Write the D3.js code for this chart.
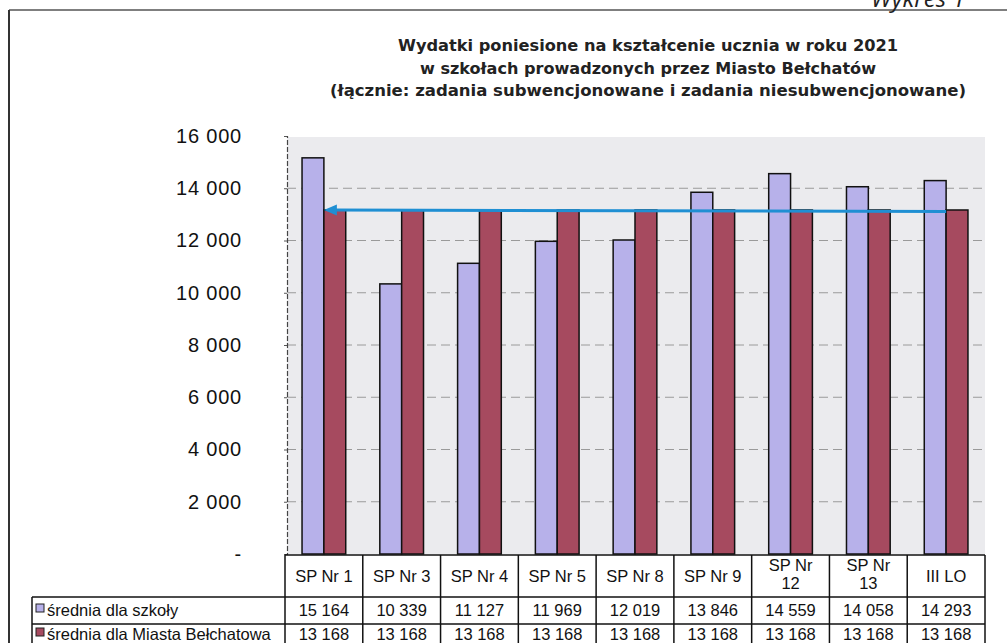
<!DOCTYPE html>
<html lang="pl">
<head>
<meta charset="utf-8">
<script src="https://cdn.jsdelivr.net/npm/d3@7"></script>
<style>
  html, body { margin: 0; padding: 0; background: #fff; }
  svg { display: block; }
</style>
</head>
<body>
<svg id="chart" width="1007" height="643"></svg>
<script>
// Expenditure per pupil in 2021, schools run by the city of Bełchatów
const schools = ["SP Nr 1", "SP Nr 3", "SP Nr 4", "SP Nr 5", "SP Nr 8", "SP Nr 9", "SP Nr 12", "SP Nr 13", "III LO"];
const schoolAvg = [15164, 10339, 11127, 11969, 12019, 13846, 14559, 14058, 14293];
const cityAvg = [13168, 13168, 13168, 13168, 13168, 13168, 13168, 13168, 13168];
const seriesNames = ["średnia dla szkoły", "średnia dla Miasta Bełchatowa"];
const yTicks = [0, 2000, 4000, 6000, 8000, 10000, 12000, 14000, 16000];
const titleLines = [
  "Wydatki poniesione na kształcenie ucznia w roku 2021",
  "w szkołach prowadzonych przez Miasto Bełchatów",
  "(łącznie: zadania subwencjonowane i zadania niesubwencjonowane)"
];

const colors = ["#b7b1ea", "#a64a5f"];
const svg = d3.select("#chart");

// outer frame of the figure
svg.append("line").attr("x1", 9).attr("y1", 10).attr("x2", 1007).attr("y2", 10)
  .attr("stroke", "#555").attr("stroke-width", 1.5);
svg.append("line").attr("x1", 9).attr("y1", 10).attr("x2", 9).attr("y2", 643)
  .attr("stroke", "#333").attr("stroke-width", 2);
svg.append("text").attr("x", 871).attr("y", 7)
  .attr("font-family", "'Open Sans', sans-serif").attr("font-style", "italic")
  .attr("font-size", 24).attr("fill", "#222").text("Wykres 1");

// title
const titleW = [500, 456, 636];
svg.append("g").selectAll("text").data(titleLines).join("text")
  .attr("x", 648).attr("y", (d, i) => 51 + i * 22.5)
  .attr("text-anchor", "middle")
  .attr("font-family", "'DejaVu Sans Condensed', 'DejaVu Sans', sans-serif")
  .attr("font-weight", "bold").attr("font-size", 16.5).attr("fill", "#222")
  .attr("textLength", (d, i) => titleW[i]).attr("lengthAdjust", "spacingAndGlyphs")
  .text(d => d);

// plot area
const plot = { left: 287, right: 985, top: 136, bottom: 554 };
const y = d3.scaleLinear().domain([0, 16000]).range([plot.bottom, plot.top]);
const xCol = d3.scaleBand().domain(schools).range([285, 985]).padding(0);
const xSub = d3.scaleBand().domain([0, 1]).range([0, xCol.bandwidth()])
  .paddingInner(0).paddingOuter(0.78);

svg.append("rect").attr("x", plot.left).attr("y", plot.top + 1)
  .attr("width", plot.right - plot.left).attr("height", plot.bottom - plot.top - 1)
  .attr("fill", "#ebebee");

// gridlines
svg.append("g").selectAll("line").data(yTicks.filter(t => t > 0 && t < 16000)).join("line")
  .attr("x1", plot.left).attr("x2", plot.right)
  .attr("y1", d => y(d)).attr("y2", d => y(d))
  .attr("stroke", "#9a9a9a").attr("stroke-width", 1).attr("stroke-dasharray", "9 5");

// y axis
const fmt = v => v === 0 ? "-" : d3.format(",")(v).replace(/,/g, " ");
const yAxis = d3.axisLeft(y).tickValues(yTicks).tickSize(3).tickFormat(fmt);
const ya = svg.append("g").attr("transform", `translate(${plot.left},0)`).call(yAxis);
ya.select(".domain").attr("stroke", "#444").attr("stroke-dasharray", "5 2").attr("stroke-width", 1.2);
ya.selectAll(".tick line").attr("stroke", "#555");
ya.selectAll(".tick text")
  .attr("x", -45)
  .attr("font-family", "'Liberation Sans', Arial, sans-serif")
  .attr("font-size", 20).attr("letter-spacing", 0.8).attr("fill", "#111");

// bars
const groups = svg.append("g").selectAll("g").data(schools).join("g")
  .attr("transform", d => `translate(${xCol(d)},0)`);
groups.selectAll("rect")
  .data((d, i) => [schoolAvg[i], cityAvg[i]].map((v, k) => ({ v, k })))
  .join("rect")
  .attr("x", d => xSub(d.k)).attr("width", xSub.bandwidth())
  .attr("y", d => y(d.v)).attr("height", d => y(0) - y(d.v))
  .attr("fill", d => colors[d.k]).attr("stroke", "#111").attr("stroke-width", 1.5);

// arrow along the city average
const avgY = y(cityAvg[0]);
const xStart = xCol(schools[0]) + xSub(1);
const xEnd = xCol(schools[schools.length - 1]) + xSub(1);
svg.append("line").attr("x1", xStart + 10).attr("x2", xEnd)
  .attr("y1", avgY).attr("y2", avgY + 1.5)
  .attr("stroke", "#1f8fd3").attr("stroke-width", 3);
svg.append("path")
  .attr("d", `M${xStart},${avgY} L${xStart + 13},${avgY - 5.5} L${xStart + 13},${avgY + 5.5} Z`)
  .attr("fill", "#1f8fd3");

// data table
const rowY = [555, 597, 624, 652];
const table = svg.append("g").attr("stroke", "#111").attr("stroke-width", 1.5);
table.append("line").attr("x1", 285).attr("x2", 985).attr("y1", rowY[0]).attr("y2", rowY[0]);
table.append("line").attr("x1", 32).attr("x2", 985).attr("y1", rowY[1]).attr("y2", rowY[1]);
table.append("line").attr("x1", 32).attr("x2", 985).attr("y1", rowY[2]).attr("y2", rowY[2]);
table.append("line").attr("x1", 32).attr("x2", 32).attr("y1", rowY[1]).attr("y2", 643);
table.selectAll(".col").data(schools.concat(["end"])).join("line")
  .attr("x1", d => d === "end" ? 985 : xCol(d)).attr("x2", d => d === "end" ? 985 : xCol(d))
  .attr("y1", rowY[0]).attr("y2", 643);

const txt = svg.append("g")
  .attr("font-family", "'Liberation Sans', Arial, sans-serif")
  .attr("font-size", 16.5).attr("fill", "#111").attr("text-anchor", "middle");

// header cells (long names wrap onto two lines)
schools.forEach(s => {
  const cx = xCol(s) + xCol.bandwidth() / 2;
  const t = txt.append("text").attr("x", cx);
  if (/\d{2}$/.test(s)) {
    const parts = s.split(/ (?=\d+$)/);
    t.attr("y", 571);
    t.append("tspan").attr("x", cx).text(parts[0]);
    t.append("tspan").attr("x", cx).attr("dy", 18).text(parts[1]);
  } else {
    t.attr("y", 582).text(s);
  }
});

const numFmt = v => d3.format(",")(v).replace(/,/g, " ");
[schoolAvg, cityAvg].forEach((arr, r) => {
  const cy = r === 0 ? 616 : 640;
  txt.append("g").selectAll("text").data(arr).join("text")
    .attr("x", (d, i) => xCol(schools[i]) + xCol.bandwidth() / 2)
    .attr("y", cy).text(d => numFmt(d));
  svg.append("rect").attr("x", 36).attr("y", cy - 12).attr("width", 8).attr("height", 8)
    .attr("fill", colors[r]).attr("stroke", "#222").attr("stroke-width", 1);
  svg.append("text").attr("x", 47).attr("y", cy)
    .attr("font-family", "'Liberation Sans', Arial, sans-serif")
    .attr("font-size", 16.5).attr("fill", "#111").text(seriesNames[r]);
});
</script>
</body>
</html>
